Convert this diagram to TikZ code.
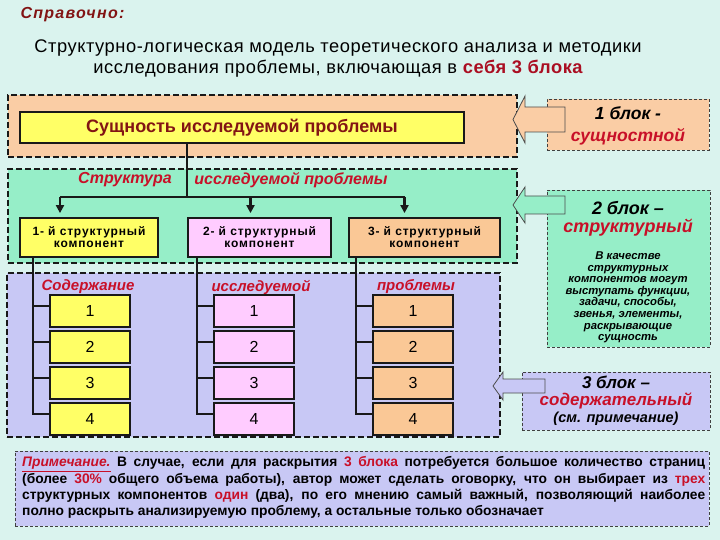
\documentclass[tikz,border=0pt]{standalone}
\usepackage{fontspec}
\setmainfont{Liberation Sans}
\usetikzlibrary{arrows.meta,calc}
\definecolor{bg}{RGB}{218,243,238}
\definecolor{orblk}{RGB}{250,205,165}
\definecolor{grblk}{RGB}{150,238,200}
\definecolor{lvblk}{RGB}{200,200,245}
\definecolor{yel}{RGB}{255,255,102}
\definecolor{pnk}{RGB}{255,204,255}
\definecolor{orb}{RGB}{250,200,150}
\definecolor{dred}{RGB}{130,20,20}
\definecolor{ired}{RGB}{200,16,40}
\newcommand{\fs}[1]{\fontsize{#1}{#1}\selectfont}
\newcommand{\spc}[1]{\addfontfeature{LetterSpace=#1}}
\begin{document}
\begin{tikzpicture}[x=1pt,y=-1pt,
  blockbox/.style={draw=black!90, line width=1.5pt, dash pattern=on 6pt off 3pt, inner sep=0pt},
  labbox/.style={draw=black!75, line width=0.8pt, dash pattern=on 3pt off 2pt, inner sep=0pt},
  compbox/.style={draw=black!90, line width=1.8pt, inner sep=0pt, align=center, minimum height=39pt, font=\bfseries\fs{12}\spc{7}},
  cell/.style={draw=black!90, line width=1.8pt, inner sep=0pt, minimum width=80pt, minimum height=32pt, font=\fs{16}},
  tree/.style={draw=black!90, line width=2.2pt},
  redlab/.style={text=ired, font=\bfseries\itshape\fs{15}},
  blockarrow/.style={draw=black!70, line width=0.8pt}
]
\fill[bg] (0,0) rectangle (720,540);
\useasboundingbox (0,0) rectangle (720,540);

% header
\node[anchor=west, text=dred, font=\bfseries\itshape\fs{16}\spc{8}] (spr) at (17,15) {Справочно:};
\node[font=\fs{18.3}\spc{3}] (t1) at (338,48) {Структурно-логическая модель теоретического анализа и методики};
\node[font=\fs{18.3}\spc{3}] (t2) at (338,69) {исследования проблемы, включающая в \textcolor{ired!85!black}{\bfseries себя 3 блока}};

% blocks
\node[blockbox, fill=orblk, minimum width=509pt, minimum height=62pt] (B1) at (262.5,126) {};
\node[blockbox, fill=grblk, minimum width=509pt, minimum height=94pt] (B2) at (262.5,216) {};
\node[blockbox, fill=lvblk, minimum width=493pt, minimum height=164pt] (B3) at (253.5,355) {};

% essence
\node[draw=black!90, line width=2.2pt, fill=yel, minimum width=444pt, minimum height=31pt, inner sep=0pt,
      text=dred, font=\bfseries\fs{18}] (S) at (242,127.5) {Сущность исследуемой проблемы};

% structure labels
\node[redlab, font=\bfseries\itshape\fs{16}] (st1) at (125,180) {Структура};
\node[redlab, font=\bfseries\itshape\fs{16}] (st2) at (291,180) {исследуемой проблемы};

% components
\node[compbox, fill=yel, minimum width=138pt] (C1) at (89,237.5) {1- й структурный\\компонент};
\node[compbox, fill=pnk, minimum width=143pt] (C2) at (259.5,237.5) {2- й структурный\\компонент};
\node[compbox, fill=orb, minimum width=151pt] (C3) at (424.5,237.5) {3- й структурный\\компонент};

% tree top
\coordinate (j) at (187,197);
\coordinate (a1) at ([xshift=-29pt]C1.north);
\coordinate (a2) at ([xshift=-9pt]C2.north);
\coordinate (a3) at ([xshift=-20pt]C3.north);
\draw[tree] (S.south -| j) -- (j);
\draw[tree] (a1 |- j) -- (a3 |- j);
\foreach \i in {1,2,3}
  \draw[tree, -{Triangle[width=8pt,length=8pt]}, shorten >=4pt] (a\i |- j) -- (a\i);

% content labels
\node[redlab] (h1) at (88,287) {Содержание};
\node[redlab] (h2) at (261,287) {исследуемой};
\node[redlab] (h3) at (416,287) {проблемы};

% cells
\foreach \cc/\x/\col in {1/90/yel,2/254/pnk,3/413/orb}{
  \foreach \r/\y in {1/311,2/347,3/383,4/419}{
    \node[cell, fill=\col] (c\cc\r) at (\x,\y) {\r};
    \coordinate (k\cc\r) at ([xshift=-16pt,yshift=5pt]c\cc\r.west);
  }
  \foreach \r in {1,2,3}
    \draw[tree] (k\cc\r) -- ([yshift=5pt]c\cc\r.west);
  \draw[tree] (k\cc1 |- C\cc.south) -- (k\cc4) -- ([yshift=5pt]c\cc4.west);
}

% right label boxes
\node[labbox, fill=orblk, minimum width=162pt, minimum height=51pt] (L1) at (628,124.5) {};
\node[font=\bfseries\itshape\fs{17.5}] (L1a) at (628,113) {1 блок -};
\node[font=\bfseries\itshape\fs{17.5}, text=ired] (L1b) at (628,137) {сущностной};

\node[labbox, fill=grblk, minimum width=163pt, minimum height=157pt] (L2) at (628.5,268.5) {};
\node[font=\bfseries\itshape\fs{18}] (L2a) at (628,208) {2 блок –};
\node[font=\bfseries\itshape\fs{18}, text=ired] (L2b) at (628,228) {структурный};
\node[font=\bfseries\itshape\fontsize{11.3}{11.6}\selectfont, align=center, anchor=north, inner sep=0pt] (L2c) at (628,251.5)
  {В качестве\\структурных\\компонентов могут\\выступать функции,\\задачи, способы,\\звенья, элементы,\\раскрывающие\\сущность};

\node[labbox, fill=lvblk, minimum width=188pt, minimum height=58pt] (L3) at (616,401) {};
\node[font=\bfseries\itshape\fs{17}] (L3a) at (616,382.5) {3 блок –};
\node[font=\bfseries\itshape\fs{17}, text=ired] (L3b) at (616,400.5) {содержательный};
\node[font=\bfseries\itshape\fs{14.5}] (L3c) at (616,419) {(см. примечание)};

% block arrows
\draw[blockarrow, fill=orblk] (513,119.5) -- (525,96) -- (525,107) -- (565,107) -- (565,132) -- (525,132) -- (525,143) -- cycle;
\draw[blockarrow, fill=grblk] (513,205) -- (525,187) -- (525,196) -- (565,196) -- (565,214) -- (525,214) -- (525,223) -- cycle;
\draw[blockarrow, fill=lvblk] (493,386) -- (503,372) -- (503,379) -- (545,379) -- (545,393) -- (503,393) -- (503,400) -- cycle;

% note
\node[labbox, fill=lvblk, minimum width=694pt, minimum height=75pt] (N) at (362,488.5) {};
\begin{scope}[every node/.style={anchor=west, inner sep=0pt, font=\bfseries\fs{13.8}}]
\node (n1) at (22,464) {\makebox[683pt][s]{\textcolor{ired}{\itshape\underline{Примечание.}} В случае, если для раскрытия \textcolor{ired}{3 блока} потребуется большое количество страниц}};
\node (n2) at (22,480) {\makebox[683pt][s]{(более \textcolor{ired}{30\%} общего объема работы), автор может сделать оговорку, что он выбирает из \textcolor{ired}{трех}}};
\node (n3) at (22,496) {\makebox[683pt][s]{структурных компонентов \textcolor{ired}{один} (два), по его мнению самый важный, позволяющий наиболее}};
\node (n4) at (22,512) {полно раскрыть анализируемую проблему, а остальные только обозначает};
\end{scope}
\end{tikzpicture}
\end{document}
